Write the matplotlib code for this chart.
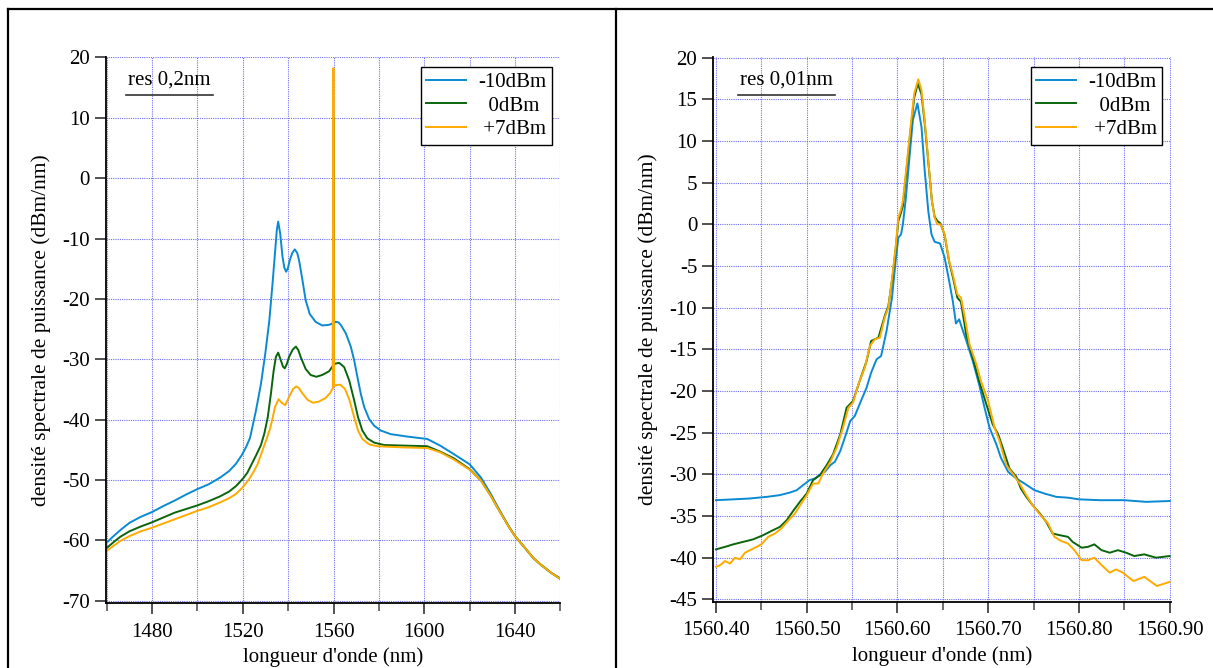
import matplotlib
matplotlib.use("Agg")
import matplotlib.pyplot as plt
from matplotlib.lines import Line2D
from matplotlib.ticker import MultipleLocator, FormatStrFormatter

plt.rcParams['font.family'] = ['Liberation Serif', 'DejaVu Serif']
plt.rcParams['axes.unicode_minus'] = False

# legende
labels = ['-10dBm', '  0dBm', ' +7dBm']
couleurs = ['#0a8ad2', '#0b650b', '#ffaa00']

# spectre large (res 0,2nm)
lam_b = [1460.5, 1463, 1466, 1470, 1475, 1480, 1485, 1490, 1495, 1500, 1505, 1510, 1514, 1517, 1519.5,
         1521.5, 1523.2, 1525.8, 1528, 1529.9, 1531.7, 1533.1, 1534.3, 1535, 1535.6, 1536.5, 1537.5,
         1538.3, 1539.1, 1539.9, 1540.7, 1541.8, 1542.9, 1544, 1544.8, 1546.3, 1547.7, 1549.5, 1552.1,
         1555, 1558, 1560, 1561, 1562.2, 1563.2, 1565.4, 1567.6, 1569.1, 1570.5, 1572, 1573.5, 1575.7,
         1577.9, 1580.8, 1585.2, 1592.5, 1601.3, 1607, 1613, 1620, 1625, 1629.3, 1632, 1635, 1637.5,
         1640, 1645.4, 1648, 1651.3, 1655.7, 1660]
dsp_b = [-60.2, -59.3, -58.3, -57.1, -56.1, -55.3, -54.3, -53.4, -52.4, -51.5, -50.7, -49.6, -48.5, -47.3, -45.9,
         -44.5, -43.0, -38.5, -34.1, -29.1, -23.6, -17.5, -11.9, -8.6, -7.2, -9.2, -13.0,
         -14.8, -15.5, -14.9, -13.6, -12.4, -11.8, -12.4, -13.6, -16.9, -20.2, -22.5, -23.8,
         -24.4, -24.3, -24.0, -23.8, -23.9, -24.3, -25.7, -27.9, -30.2, -32.9, -35.7, -37.9, -39.9,
         -41.0, -41.8, -42.4, -42.8, -43.2, -44.3, -45.7, -47.4, -49.6, -52.3, -54.2, -56.2, -57.8,
         -59.3, -61.7, -62.9, -64.0, -65.3, -66.3]

lam_g = [1460.2, 1463, 1466, 1470, 1475, 1480, 1485, 1490, 1495, 1500, 1505, 1510, 1514, 1517, 1520,
         1522, 1524, 1526, 1528, 1529.5, 1531, 1532.4, 1533.6, 1534.6, 1535.6, 1536.8, 1537.7, 1538.5,
         1539.4, 1540.4, 1542, 1543.4, 1544.5, 1545.5, 1547.7, 1549.9, 1552.4, 1555, 1558, 1559.7,
         1559.85, 1560.05, 1560.2, 1561, 1562.5, 1564.7, 1566.9, 1569.1, 1570.8, 1572.7, 1574.9, 1577.9,
         1582.3, 1591, 1601.3, 1607, 1613, 1620, 1625, 1629.3, 1632, 1635, 1637.5, 1640, 1645.4, 1648,
         1651.3, 1655.7, 1660]
dsp_g = [-61.2, -60.3, -59.4, -58.5, -57.7, -57.0, -56.2, -55.4, -54.8, -54.2, -53.5, -52.7, -51.9, -51.0, -49.8,
         -48.8, -47.3, -45.8, -44.2, -42.3, -39.6, -35.7, -31.9, -29.6, -28.9, -30.2, -31.2, -31.5,
         -30.8, -29.6, -28.4, -27.9, -28.5, -29.6, -31.6, -32.6, -32.9, -32.6, -32.0, -31.1,
         10.0, 10.0, -30.8, -30.7, -30.6, -31.3, -33.5, -36.8, -39.6, -41.8, -43.1, -43.8,
         -44.2, -44.3, -44.4, -45.3, -46.4, -48.2, -50.1, -52.6, -54.4, -56.3, -57.9, -59.3, -61.7, -62.9,
         -64.0, -65.3, -66.4]

lam_o = [1460.2, 1463, 1466, 1470, 1475, 1480, 1485, 1490, 1495, 1500, 1505, 1510, 1514, 1517, 1520,
         1522.5, 1524.5, 1526.5, 1528.5, 1530.5, 1532, 1533.1, 1534.2, 1535.8, 1536.8, 1538.7, 1540.7,
         1542.2, 1543.6, 1544.8, 1546, 1548.5, 1550.9, 1553.6, 1556.5, 1558.5, 1559.7, 1559.85, 1560.05,
         1560.2, 1561, 1562.9, 1565, 1566.9, 1569.1, 1570.8, 1572.7, 1575.7, 1579.3, 1591, 1601.3, 1607,
         1613, 1620, 1625, 1629.3, 1632, 1635, 1637.5, 1640, 1645.4, 1648, 1651.3, 1655.7, 1660]
dsp_o = [-61.7, -60.9, -60.1, -59.3, -58.5, -57.9, -57.2, -56.5, -55.8, -55.1, -54.5, -53.7, -53.0, -52.3, -51.2,
         -50.0, -48.8, -47.4, -45.3, -43.2, -41.5, -39.8, -37.9, -36.6, -37.1, -37.6, -36.0,
         -34.9, -34.5, -34.8, -35.5, -36.7, -37.2, -37.0, -36.4, -35.6, -34.8, 18.2, 18.2,
         -34.5, -34.3, -34.2, -34.9, -36.6, -39.6, -41.8, -43.2, -44.1, -44.4, -44.6, -44.7, -45.4,
         -46.6, -48.3, -50.1, -52.6, -54.4, -56.3, -57.9, -59.3, -61.7, -62.9, -64.0, -65.3, -66.4]

# zoom sur le signal (res 0,01nm)
zlam_b = [1560.400, 1560.419, 1560.437, 1560.456, 1560.470, 1560.481, 1560.489, 1560.496, 1560.503,
          1560.509, 1560.514, 1560.520, 1560.526, 1560.531, 1560.537, 1560.542, 1560.548, 1560.553,
          1560.559, 1560.566, 1560.571, 1560.577, 1560.582, 1560.588, 1560.594, 1560.598, 1560.601,
          1560.604, 1560.606, 1560.609, 1560.613, 1560.617, 1560.622, 1560.6265, 1560.630, 1560.634,
          1560.6375, 1560.641, 1560.647, 1560.652, 1560.657, 1560.661, 1560.6645, 1560.668, 1560.671,
          1560.676, 1560.683, 1560.690, 1560.696, 1560.7015, 1560.709, 1560.714, 1560.722, 1560.731,
          1560.740, 1560.751, 1560.762, 1560.775, 1560.788, 1560.800, 1560.823, 1560.850, 1560.874,
          1560.900]
zdsp_b = [-33.1, -33.0, -32.9, -32.7, -32.5, -32.2, -31.9, -31.3, -30.7,
          -30.5, -30.1, -29.7, -28.9, -28.5, -27.2, -25.6, -23.6, -23.0,
          -21.4, -19.6, -17.8, -16.2, -15.8, -12.8, -8.8, -4.4, -1.6,
          -1.2, 0.0, 2.85, 7.7, 12.5, 14.5, 11.7, 6.5, 1.6,
          -1.2, -2.1, -2.3, -4.0, -6.8, -9.2, -11.9, -11.4, -12.4,
          -14.0, -16.4, -19.2, -22.0, -24.4, -26.4, -28.0, -29.7, -30.5,
          -31.1, -31.9, -32.3, -32.7, -32.8, -33.0, -33.1, -33.1, -33.3,
          -33.2]

zlam_g = [1560.400, 1560.410, 1560.419, 1560.430, 1560.441, 1560.452, 1560.461, 1560.4705, 1560.478,
          1560.485, 1560.4925, 1560.500, 1560.507, 1560.5145, 1560.522, 1560.529, 1560.537, 1560.544,
          1560.551, 1560.559, 1560.566, 1560.571, 1560.579, 1560.586, 1560.590, 1560.5946, 1560.598,
          1560.601, 1560.604, 1560.606, 1560.610, 1560.6145, 1560.6185, 1560.6225, 1560.6265, 1560.630,
          1560.634, 1560.638, 1560.641, 1560.644, 1560.6475, 1560.652, 1560.657, 1560.661, 1560.666,
          1560.670, 1560.6757, 1560.683, 1560.690, 1560.698, 1560.705, 1560.711, 1560.716, 1560.7235,
          1560.731, 1560.736, 1560.742, 1560.749, 1560.757, 1560.764, 1560.771, 1560.779, 1560.788,
          1560.793, 1560.803, 1560.810, 1560.817, 1560.825, 1560.834, 1560.843, 1560.852, 1560.861,
          1560.872, 1560.885, 1560.900]
zdsp_g = [-39.0, -38.7, -38.4, -38.1, -37.8, -37.3, -36.8, -36.3, -35.5,
          -34.4, -33.3, -32.3, -30.7, -30.1, -28.9, -27.6, -25.2, -22.0,
          -21.2, -18.6, -16.4, -14.0, -13.6, -11.0, -9.8, -6.3, -3.0,
          0.4, 1.4, 2.2, 6.5, 11.3, 15.2, 16.9, 15.6, 12.2,
          7.5, 2.8, 0.9, 0.4, 0.1, -1.3, -4.5, -6.3, -8.8,
          -9.3, -13.2, -16.0, -18.8, -21.6, -24.0, -25.2, -26.8, -29.3,
          -30.3, -31.7, -32.7, -33.7, -34.7, -35.7, -37.1, -37.3, -37.5,
          -38.1, -38.8, -38.7, -38.4, -39.1, -39.4, -39.1, -39.4, -39.8,
          -39.6, -40.0, -39.8]

zlam_o = [1560.400, 1560.4045, 1560.410, 1560.4155, 1560.421, 1560.4265, 1560.432, 1560.4375, 1560.443,
          1560.450, 1560.4576, 1560.465, 1560.472, 1560.480, 1560.487, 1560.494, 1560.500, 1560.507,
          1560.5127, 1560.518, 1560.526, 1560.533, 1560.540, 1560.546, 1560.551, 1560.557, 1560.564,
          1560.5696, 1560.575, 1560.5806, 1560.586, 1560.590, 1560.5946, 1560.598, 1560.601, 1560.604,
          1560.606, 1560.610, 1560.6145, 1560.6185, 1560.623, 1560.6265, 1560.630, 1560.634, 1560.638,
          1560.641, 1560.644, 1560.6475, 1560.652, 1560.657, 1560.661, 1560.666, 1560.670, 1560.674,
          1560.6794, 1560.687, 1560.692, 1560.700, 1560.707, 1560.7125, 1560.720, 1560.727, 1560.7346,
          1560.742, 1560.749, 1560.757, 1560.766, 1560.773, 1560.7805, 1560.788, 1560.795, 1560.803,
          1560.810, 1560.817, 1560.825, 1560.834, 1560.841, 1560.8485, 1560.860, 1560.872, 1560.886,
          1560.900]
zdsp_o = [-41.1, -40.9, -40.4, -40.7, -40.0, -40.2, -39.4, -39.1, -38.8,
          -38.4, -37.5, -37.1, -36.5, -35.5, -34.7, -33.5, -32.5, -31.1,
          -31.1, -29.9, -28.5, -26.8, -24.4, -22.0, -21.4, -19.2, -17.2,
          -14.6, -13.8, -13.6, -11.2, -10.0, -6.0, -2.8, 0.8, 1.8,
          2.8, 6.9, 11.7, 15.7, 17.4, 16.1, 12.5, 7.7, 2.8,
          0.8, 0.0, 0.0, -1.2, -4.4, -6.0, -8.4, -8.8, -11.0,
          -14.4, -16.8, -18.8, -21.2, -24.4, -26.0, -28.9, -29.9, -31.1,
          -32.5, -33.7, -34.8, -35.9, -37.5, -38.0, -38.3, -39.1, -40.3,
          -40.3, -40.0, -40.9, -41.8, -41.4, -41.8, -42.8, -42.3, -43.4,
          -42.9]

fig = plt.figure(figsize=(12.13, 6.68), dpi=100)
ax1 = fig.add_axes([0.087, 0.097, 0.375, 0.818])
ax2 = fig.add_axes([0.588, 0.099, 0.377, 0.816])

# cadre autour des deux graphes
for xs, ys in [([8, 1213], [659, 659]), ([8, 8], [0, 659]), ([616, 616], [0, 659])]:
    fig.add_artist(Line2D([x / 1213 for x in xs], [y / 668 for y in ys], color='black', lw=1.6,
                          transform=fig.transFigure))


def habillage(ax, res, xt, ul):
    ax.grid(True, which='both', color='#6f6ff5', linestyle=(0, (1, 1)), linewidth=0.8)
    ax.set_axisbelow(True)
    for s in ['top', 'right']:
        ax.spines[s].set_visible(False)
    for s in ['left', 'bottom']:
        ax.spines[s].set_linewidth(1.3)
    ax.tick_params(which='major', direction='out', length=8, width=1.2, labelsize=15, color='#333333')
    ax.tick_params(axis='x', which='major', pad=6)
    ax.tick_params(which='minor', direction='out', length=6, width=1.2, color='#555555')
    ax.tick_params(axis='y', which='minor', length=0)
    ax.set_xlabel("longueur d'onde (nm)", fontsize=15, labelpad=4)
    ax.set_ylabel("densité spectrale de puissance (dBm/nm)", fontsize=15.4, labelpad=8)
    ax.text(xt, 0.957, res, transform=ax.transAxes, fontsize=15, ha='center', va='center')
    ax.plot(ul, [0.93, 0.93], transform=ax.transAxes, color='#333333', lw=1.2, clip_on=False)
    leg = ax.legend(loc='upper right', bbox_to_anchor=(0.981, 0.981), fontsize=15, fancybox=False,
                    framealpha=1, edgecolor='black', handlelength=1.9, labelspacing=0.2,
                    borderpad=0.25, handletextpad=0.6, borderaxespad=0)
    leg.get_frame().set_linewidth(1.0)


for l, d, c, lab in zip([lam_b, lam_g, lam_o], [dsp_b, dsp_g, dsp_o], couleurs, labels):
    ax1.plot(l, d, color=c, lw=1.4, label=lab)
ax1.set_xlim(1459.5, 1660)
ax1.set_ylim(-70.4, 20.1)
ax1.xaxis.set_major_locator(MultipleLocator(40))
ax1.xaxis.set_minor_locator(MultipleLocator(20))
ax1.yaxis.set_major_locator(MultipleLocator(10))
habillage(ax1, 'res 0,2nm', 0.14, [0.045, 0.237])

for l, d, c, lab in zip([zlam_b, zlam_g, zlam_o], [zdsp_b, zdsp_g, zdsp_o], couleurs, labels):
    ax2.plot(l, d, color=c, lw=1.4, label=lab)
ax2.set_xlim(1560.397, 1560.901)
ax2.set_ylim(-45.3, 20.1)
ax2.xaxis.set_major_locator(MultipleLocator(0.1))
ax2.xaxis.set_minor_locator(MultipleLocator(0.05))
ax2.xaxis.set_major_formatter(FormatStrFormatter('%.2f'))
ax2.yaxis.set_major_locator(MultipleLocator(5))
habillage(ax2, 'res 0,01nm', 0.16, [0.055, 0.267])

fig.savefig('out.png', dpi=100)
